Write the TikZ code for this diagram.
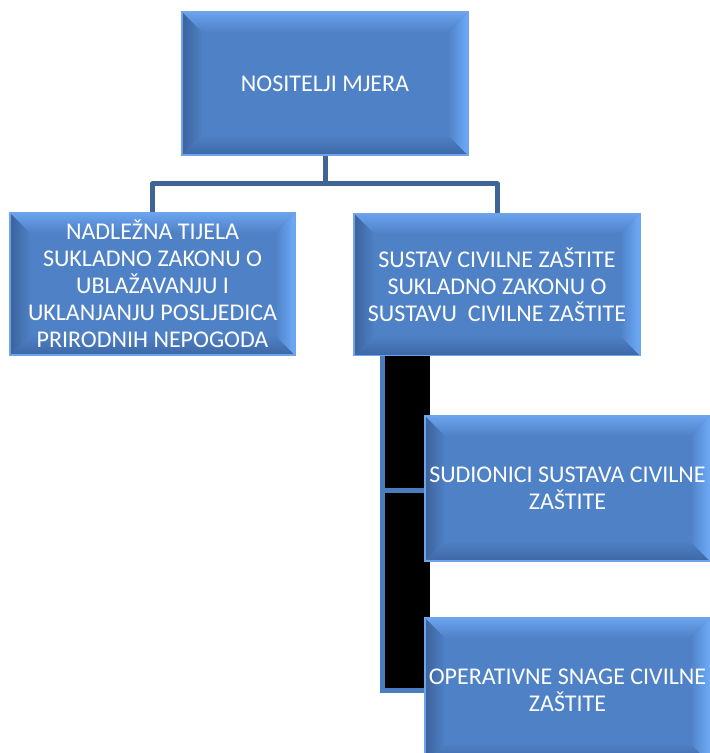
\documentclass[tikz,border=0pt]{standalone}
\usepackage{fontspec}
\setmainfont{Carlito}
\usetikzlibrary{calc}
\definecolor{face}{HTML}{4F81C6}
\definecolor{bevtop}{HTML}{6AA3EE}
\definecolor{bevleft}{HTML}{3B629C}
\definecolor{bevright}{HTML}{6DACFA}
\definecolor{bevbot}{HTML}{3D67A6}
\definecolor{rim}{HTML}{6FA3EA}
\definecolor{conn}{HTML}{3F6496}
\definecolor{elb}{HTML}{4A7CC0}
\tikzset{
  bevelbox/.style={
    draw=rim, line width=1.5pt, fill=face, inner sep=0pt,
    minimum width=#1, align=center, text=white,
    font=\fontsize{24}{27}\selectfont,
    path picture={
      \coordinate (pnw) at (path picture bounding box.north west);
      \coordinate (pne) at (path picture bounding box.north east);
      \coordinate (psw) at (path picture bounding box.south west);
      \coordinate (pse) at (path picture bounding box.south east);
      \shade[top color=bevtop, bottom color=face]
        (pnw) -- (pne) -- ($(pne)+(-20pt,-20pt)$) -- ($(pnw)+(20pt,-20pt)$) -- cycle;
      \shade[top color=face, bottom color=bevbot]
        (psw) -- (pse) -- ($(pse)+(-20pt,20pt)$) -- ($(psw)+(20pt,20pt)$) -- cycle;
      \shade[left color=bevleft, right color=face]
        (pnw) -- (psw) -- ($(psw)+(20pt,20pt)$) -- ($(pnw)+(20pt,-20pt)$) -- cycle;
      \shade[left color=face, right color=bevright]
        (pne) -- (pse) -- ($(pse)+(-20pt,20pt)$) -- ($(pne)+(-20pt,-20pt)$) -- cycle;
    }
  },
  connline/.style={draw=conn, line width=5pt},
  elbowline/.style={draw=elb, line width=5pt}
}
\begin{document}
\begin{tikzpicture}[x=1pt,y=-1pt]
\useasboundingbox (0,0) rectangle (710,753);
% elbow connectors (rendered as black filled boxes)
\fill[black] (385,355) rectangle (430,490);
\draw[elbowline] (382.5,355) |- (430,490);
\fill[black] (385,493) rectangle (430,690);
\draw[elbowline] (382.5,493) |- (430,690.5);
% boxes
\node[bevelbox=286pt, minimum height=143pt] (top) at (325,83.5) {NOSITELJI MJERA};
\node[bevelbox=285pt, minimum height=142pt] (left) at (152.5,284) {NADLEŽNA TIJELA\\SUKLADNO ZAKONU O\\UBLAŽAVANJU I\\UKLANJANJU POSLJEDICA\\PRIRODNIH NEPOGODA};
\node[bevelbox=286pt, minimum height=142pt] (right) at (497,284.5) {SUSTAV CIVILNE ZAŠTITE\\SUKLADNO ZAKONU O\\SUSTAVU\ \ CIVILNE ZAŠTITE};
\node[bevelbox=285pt, minimum height=145pt] (c1) at (567.5,488.5) {SUDIONICI SUSTAVA CIVILNE\\ZAŠTITE};
\node[bevelbox=285pt, minimum height=145pt] (c2) at (567.5,690.5) {OPERATIVNE SNAGE CIVILNE\\ZAŠTITE};
% connectors
\coordinate (hub) at ($(top.south)+(0,28)$);
\draw[connline] (top.south) -- (hub);
\draw[connline, line join=round] (hub) -| (left.north);
\draw[connline, line join=round] (hub) -| (right.north);
\end{tikzpicture}
\end{document}
